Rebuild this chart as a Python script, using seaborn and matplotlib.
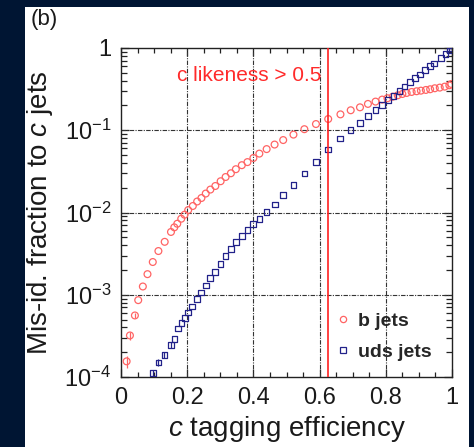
import matplotlib
matplotlib.use("Agg")
import matplotlib.pyplot as plt
import matplotlib.patches as mpatches
from matplotlib.lines import Line2D
from matplotlib.ticker import MultipleLocator, LogLocator, FixedLocator, FixedFormatter, NullFormatter
import seaborn as sns

# c-tagging efficiency vs. mis-identification fraction (b jets)
b_eff = [0.017, 0.027, 0.042, 0.052, 0.066, 0.080, 0.096, 0.113, 0.132, 0.151,
         0.161, 0.170, 0.182, 0.192, 0.203, 0.217, 0.230, 0.243, 0.256, 0.270,
         0.285, 0.301, 0.316, 0.332, 0.347, 0.365, 0.382, 0.400, 0.418, 0.440,
         0.464, 0.490, 0.521, 0.554, 0.589, 0.626, 0.663, 0.694, 0.722, 0.746,
         0.769, 0.789, 0.805, 0.821, 0.836, 0.850, 0.863, 0.878, 0.893, 0.906,
         0.921, 0.934, 0.948, 0.963, 0.978, 0.992, 0.998]
b_misid = [1.55e-4, 3.2e-4, 5.6e-4, 8.6e-4, 1.26e-3, 1.78e-3, 2.5e-3, 3.4e-3, 4.4e-3, 5.8e-3,
           6.6e-3, 7.3e-3, 8.4e-3, 9.4e-3, 1.07e-2, 1.2e-2, 1.36e-2, 1.5e-2, 1.7e-2, 1.9e-2,
           2.1e-2, 2.4e-2, 2.7e-2, 3.0e-2, 3.36e-2, 3.76e-2, 4.1e-2, 4.6e-2, 5.2e-2, 5.9e-2,
           6.7e-2, 7.6e-2, 8.85e-2, 0.103, 0.119, 0.137, 0.156, 0.175, 0.190, 0.209,
           0.223, 0.236, 0.245, 0.256, 0.266, 0.276, 0.284, 0.292, 0.298, 0.303,
           0.309, 0.315, 0.324, 0.330, 0.339, 0.352, 0.365]
b_err = [2.5e-5, 3.5e-5, 4e-5]

# c-tagging efficiency vs. mis-identification fraction (uds jets)
uds_eff = [0.097, 0.113, 0.131, 0.151, 0.161, 0.173, 0.183, 0.193, 0.203, 0.215,
           0.229, 0.242, 0.256, 0.269, 0.284, 0.300, 0.316, 0.332, 0.348, 0.365,
           0.382, 0.399, 0.418, 0.440, 0.465, 0.490, 0.521, 0.554, 0.589, 0.626,
           0.662, 0.694, 0.722, 0.747, 0.769, 0.789, 0.806, 0.823, 0.841, 0.857,
           0.873, 0.889, 0.903, 0.918, 0.933, 0.946, 0.966, 0.981, 0.992, 0.999]
uds_misid = [1.11e-4, 1.5e-4, 1.86e-4, 2.46e-4, 2.9e-4, 3.9e-4, 4.5e-4, 5.2e-4, 6.1e-4, 7.2e-4,
             8.9e-4, 1.07e-3, 1.29e-3, 1.6e-3, 1.9e-3, 2.35e-3, 2.96e-3, 3.6e-3, 4.36e-3, 5.2e-3,
             6.1e-3, 7.25e-3, 8.4e-3, 1.01e-2, 1.25e-2, 1.62e-2, 2.15e-2, 2.97e-2, 4.1e-2, 5.8e-2,
             7.9e-2, 0.100, 0.123, 0.149, 0.175, 0.203, 0.233, 0.261, 0.298, 0.342,
             0.386, 0.432, 0.479, 0.540, 0.600, 0.645, 0.755, 0.845, 0.930, 0.990]
uds_err = [1.2e-5, 1.5e-5, 1.7e-5, 2e-5]

cut_eff = 0.625
cut_label = "c likeness > 0.5"
x_ticks = [0, 0.2, 0.4, 0.6, 0.8, 1]
x_ticklabels = ["0", "0.2", "0.4", "0.6", "0.8", "1"]
y_ticks = [1e-4, 1e-3, 1e-2, 1e-1, 1]
y_ticklabels = [r"$\mathregular{10^{-4}}$", r"$\mathregular{10^{-3}}$",
                r"$\mathregular{10^{-2}}$", r"$\mathregular{10^{-1}}$", "1"]

sns.set_theme(style="ticks")
plt.rcParams["font.family"] = ["Liberation Sans", "DejaVu Sans"]
plt.rcParams["mathtext.fontset"] = "custom"
plt.rcParams["mathtext.rm"] = "Liberation Sans"
plt.rcParams["mathtext.it"] = "Liberation Sans:italic"
plt.rcParams["mathtext.bf"] = "Liberation Sans:bold"

RED = "#ff6464"
BLUE = "#22228a"
NAVY = "#001533"
INK = "#1a1a1a"

fig = plt.figure(figsize=(4.74, 4.47), dpi=100, facecolor=NAVY)
fig.patches.append(mpatches.Rectangle((25 / 474, 0), (469 - 25) / 474, (447 - 7) / 447,
                                      transform=fig.transFigure, facecolor="white",
                                      edgecolor="none", zorder=-5))
ax = fig.add_axes([121 / 474, (447 - 377) / 447, (452 - 121) / 474, (377 - 48) / 447])
ax.set_zorder(2)
ax.set_facecolor("white")

ax.set_yscale("log")
ax.set_xlim(0, 1)
ax.set_ylim(1e-4, 1)

# grid at major ticks
grid_style = dict(color="#333333", lw=0.8, ls=(0, (4, 1.2, 1, 1.2)), zorder=1)
for xv in x_ticks[1:-1]:
    ax.axvline(xv, **grid_style)
for yv in y_ticks[1:-1]:
    ax.axhline(yv, **grid_style)

# small statistical error bars on the lowest points
ax.errorbar(b_eff[:3], b_misid[:3], yerr=b_err, fmt="none", ecolor=RED, elinewidth=0.9, zorder=3)
ax.errorbar(uds_eff[:4], uds_misid[:4], yerr=uds_err, fmt="none", ecolor=BLUE, elinewidth=0.9, zorder=3)

sns.scatterplot(x=b_eff, y=b_misid, ax=ax, marker="o", s=24, facecolors="none",
                edgecolor=RED, linewidth=0.9, zorder=4)
sns.scatterplot(x=uds_eff, y=uds_misid, ax=ax, marker="s", s=16, facecolors="none",
                edgecolor=BLUE, linewidth=0.9, zorder=4)

ax.axvline(cut_eff, color="#ff2020", lw=1.2, zorder=5)
ax.text(0.170, 0.46, cut_label, color="#ff2a2a", fontsize=15, va="center", ha="left", zorder=6)

ax.xaxis.set_major_locator(FixedLocator(x_ticks))
ax.xaxis.set_major_formatter(FixedFormatter(x_ticklabels))
ax.xaxis.set_minor_locator(MultipleLocator(0.05))
ax.yaxis.set_major_locator(FixedLocator(y_ticks))
ax.yaxis.set_major_formatter(FixedFormatter(y_ticklabels))
ax.yaxis.set_minor_locator(LogLocator(base=10, subs=range(2, 10), numticks=20))
ax.yaxis.set_minor_formatter(NullFormatter())

ax.tick_params(axis="both", which="both", direction="in", top=True, right=True,
               color="#222222", width=0.9)
ax.tick_params(axis="both", which="major", length=6, labelsize=17, colors="#222222",
               labelcolor=INK)
ax.tick_params(axis="x", which="major", pad=7)
ax.tick_params(axis="y", which="major", pad=7)
ax.tick_params(axis="x", which="minor", length=3.5)
ax.tick_params(axis="y", which="minor", length=4.5)

for sp in ax.spines.values():
    sp.set_color("#222222")
    sp.set_linewidth(1.0)

ax.set_xlabel(r"$\it{c}$ tagging efficiency", fontsize=20, color=INK, labelpad=4)
ax.set_ylabel(r"Mis-id. fraction to $\it{c}$ jets", fontsize=20, color=INK, labelpad=7)

handles = [
    Line2D([], [], marker="o", ls="none", markerfacecolor="none", markeredgecolor=RED,
           markersize=4.5, markeredgewidth=0.9, label="b jets"),
    Line2D([], [], marker="s", ls="none", markerfacecolor="none", markeredgecolor=BLUE,
           markersize=4, markeredgewidth=0.9, label="uds jets"),
]
ax.legend(handles=handles, loc="lower right", frameon=False, prop={"weight": "bold", "size": 14},
          handlelength=1.0, handletextpad=0.25, labelspacing=0.7, bbox_to_anchor=(0.99, -0.005))

fig.text(31 / 474, 1 - 20 / 447, "(b)", fontsize=16, color=INK, va="center", ha="left")

fig.savefig("out.png", dpi=100, facecolor=NAVY)
